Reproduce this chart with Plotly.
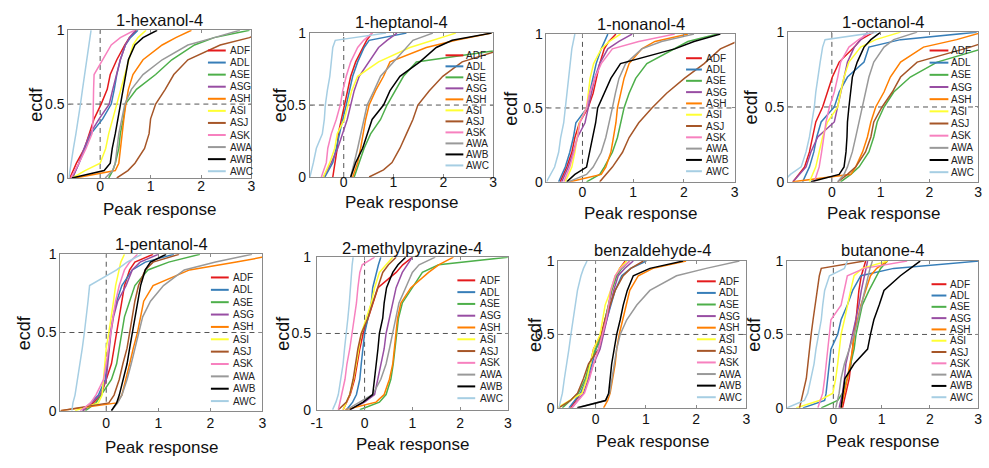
import plotly.graph_objects as go

# ---------------- data (x value at which each ecdf reaches the given level) ----------------
ecdf_levels = [0, 0.05, 0.1, 0.2, 0.3, 0.4, 0.5, 0.6, 0.7, 0.8, 0.9, 0.95, 1.0]
series_names = ["ADF", "ADL", "ASE", "ASG", "ASH", "ASI", "ASJ", "ASK", "AWA", "AWB", "AWC"]
series_colors = ["#e41a1c", "#377eb8", "#4daf4a", "#984ea3", "#ff7f00", "#ffff33",
                 "#a65628", "#f781bf", "#999999", "#000000", "#a6cee3"]
panel_titles = ["1-hexanol-4", "1-heptanol-4", "1-nonanol-4", "1-octanol-4",
                "1-pentanol-4", "2-methylpyrazine-4", "benzaldehyde-4", "butanone-4"]
x_min = [-0.63, -0.68, -0.71, -0.9, -0.88, -1.0, -0.74, -0.96]
x_max = 3
x_ticks = [-1, 0, 1, 2, 3]
y_ticks = [0, 0.5, 1]
y_tick_text = ["0", "0.5", "1"]

hexanol = {
    "ADF": [-0.6, -0.53, -0.47, -0.31, -0.21, -0.12, 0.02, 0.14, 0.2, 0.33, 0.49, 0.58, 0.72],
    "ADL": [-0.55, -0.48, -0.42, -0.3, -0.18, 0.05, 0.22, 0.28, 0.33, 0.4, 0.5, 0.6, 0.75],
    "ASE": [0.17, 0.25, 0.3, 0.37, 0.4, 0.46, 0.5, 0.72, 1.1, 1.42, 1.87, 2.26, 2.96],
    "ASG": [-0.55, -0.48, -0.42, -0.32, -0.2, -0.02, 0.18, 0.25, 0.32, 0.4, 0.5, 0.58, 0.7],
    "ASH": [-0.5, 0.3, 0.37, 0.4, 0.43, 0.47, 0.51, 0.56, 0.65, 0.85, 1.23, 1.5, 1.81],
    "ASI": [-0.55, -0.3, 0.0, 0.11, 0.17, 0.25, 0.33, 0.41, 0.49, 0.56, 0.65, 0.75, 0.91],
    "ASJ": [0.33, 0.55, 0.69, 0.88, 0.97, 1.0, 1.1, 1.29, 1.46, 1.74, 2.38, 2.96, 3.3],
    "ASK": [-0.58, -0.5, -0.42, -0.28, -0.16, -0.14, -0.14, -0.13, -0.12, 0.05, 0.22, 0.4, 0.68],
    "AWA": [0.1, 0.25, 0.3, 0.33, 0.37, 0.43, 0.49, 0.62, 0.85, 1.23, 1.74, 2.26, 2.77],
    "AWB": [-0.56, 0.08, 0.2, 0.24, 0.3, 0.35, 0.4, 0.46, 0.51, 0.56, 0.69, 0.85, 1.13],
    "AWC": [-0.62, -0.6, -0.58, -0.53, -0.48, -0.43, -0.39, -0.35, -0.31, -0.27, -0.22, -0.2, -0.18],
}
heptanol = {
    "ADF": [-0.22, -0.2, -0.17, -0.13, -0.11, -0.05, 0.01, 0.08, 0.14, 0.24, 0.38, 0.46, 0.57],
    "ADL": [-0.38, -0.3, -0.22, -0.15, -0.09, -0.02, 0.05, 0.11, 0.18, 0.28, 0.41, 0.51, 1.26],
    "ASE": [0.21, 0.26, 0.31, 0.41, 0.54, 0.74, 0.87, 1.03, 1.2, 1.46, 3.5, 3.7, 4.0],
    "ASG": [-0.41, -0.33, -0.25, -0.12, -0.02, 0.07, 0.14, 0.21, 0.31, 0.51, 0.7, 0.87, 1.07],
    "ASH": [0.18, 0.23, 0.28, 0.34, 0.39, 0.44, 0.51, 0.64, 0.8, 0.93, 1.66, 2.25, 2.97],
    "ASI": [-0.41, -0.35, -0.28, -0.18, -0.13, 0.01, 0.08, 0.16, 0.28, 0.7, 1.33, 1.79, 2.25],
    "ASJ": [0.51, 0.8, 0.97, 1.13, 1.26, 1.39, 1.49, 1.72, 1.99, 2.38, 3.3, 3.6, 4.0],
    "ASK": [-0.45, -0.4, -0.35, -0.32, -0.25, -0.15, -0.07, -0.02, 0.05, 0.14, 0.28, 0.4, 0.57],
    "AWA": [0.14, 0.18, 0.21, 0.28, 0.34, 0.41, 0.47, 0.61, 0.74, 1.0, 1.26, 1.39, 1.79],
    "AWB": [0.14, 0.19, 0.24, 0.38, 0.47, 0.57, 0.8, 0.93, 1.13, 1.53, 1.86, 2.18, 2.97],
    "AWC": [-0.68, -0.64, -0.61, -0.55, -0.43, -0.39, -0.37, -0.33, -0.28, -0.25, -0.22, -0.17, 0.85],
}
nonanol = {
    "ADF": [-0.44, -0.38, -0.31, -0.21, -0.15, -0.06, 0.11, 0.21, 0.28, 0.34, 0.43, 0.52, 0.66],
    "ADL": [-0.47, -0.4, -0.34, -0.25, -0.18, -0.13, 0.09, 0.14, 0.21, 0.27, 0.37, 0.43, 0.5],
    "ASE": [0.08, 0.34, 0.43, 0.59, 0.69, 0.75, 0.82, 0.92, 1.05, 1.27, 1.82, 2.08, 2.66],
    "ASG": [-0.41, -0.35, -0.28, -0.18, -0.1, 0.05, 0.11, 0.17, 0.24, 0.34, 0.5, 0.72, 0.98],
    "ASH": [-0.25, 0.37, 0.46, 0.56, 0.61, 0.66, 0.69, 0.75, 0.82, 0.92, 1.17, 1.43, 2.08],
    "ASI": [-0.34, -0.28, -0.21, -0.15, -0.1, -0.06, 0.08, 0.11, 0.15, 0.22, 0.37, 0.53, 0.75],
    "ASJ": [0.34, 0.46, 0.59, 0.79, 0.92, 1.11, 1.37, 1.66, 2.01, 2.4, 2.72, 3.05, 3.3],
    "ASK": [-0.37, -0.31, -0.25, -0.17, -0.1, -0.05, 0.08, 0.14, 0.24, 0.37, 0.59, 1.11, 1.82],
    "AWA": [-0.28, 0.08, 0.21, 0.37, 0.46, 0.53, 0.59, 0.65, 0.72, 0.85, 1.17, 1.56, 2.2],
    "AWB": [-0.31, -0.15, 0.08, 0.14, 0.21, 0.26, 0.3, 0.43, 0.56, 0.75, 1.82, 2.2, 2.72],
    "AWC": [-0.71, -0.63, -0.55, -0.47, -0.43, -0.37, -0.34, -0.31, -0.28, -0.25, -0.21, -0.18, -0.15],
}
octanol = {
    "ADF": [-0.8, -0.68, -0.56, -0.46, -0.39, -0.33, -0.19, -0.09, 0.01, 0.15, 0.46, 0.59, 0.86],
    "ADL": [-0.6, -0.53, -0.46, -0.37, -0.31, -0.22, 0.05, 0.15, 0.32, 0.66, 0.76, 1.41, 2.97],
    "ASE": [0.18, 0.39, 0.56, 0.76, 0.86, 0.93, 1.07, 1.27, 1.61, 2.16, 3.2, 3.5, 3.8],
    "ASG": [-0.8, -0.66, -0.53, -0.43, -0.29, 0.05, 0.12, 0.18, 0.25, 0.32, 0.46, 0.6, 0.73],
    "ASH": [-0.8, 0.39, 0.49, 0.63, 0.73, 0.8, 0.9, 1.07, 1.2, 1.41, 1.88, 2.56, 3.1],
    "ASI": [-0.46, -0.4, -0.33, -0.26, -0.19, -0.09, 0.12, 0.18, 0.25, 0.35, 0.59, 0.9, 1.41],
    "ASJ": [0.12, 0.32, 0.49, 0.69, 0.8, 0.86, 1.03, 1.24, 1.41, 1.75, 2.84, 3.3, 3.6],
    "ASK": [-0.36, -0.31, -0.26, -0.21, -0.17, -0.12, -0.05, 0.05, 0.12, 0.18, 0.35, 0.55, 0.8],
    "AWA": [0.12, 0.25, 0.32, 0.42, 0.49, 0.56, 0.63, 0.69, 0.76, 0.86, 1.07, 1.27, 1.75],
    "AWB": [-0.43, 0.15, 0.25, 0.29, 0.31, 0.32, 0.35, 0.39, 0.42, 0.52, 0.66, 0.8, 1.0],
    "AWC": [-1.0, -0.85, -0.63, -0.53, -0.46, -0.41, -0.36, -0.33, -0.29, -0.24, -0.19, -0.14, 0.93],
}
pentanol = {
    "ADF": [-0.45, -0.25, -0.1, 0.0, 0.1, 0.15, 0.2, 0.25, 0.3, 0.35, 0.45, 0.55, 0.9],
    "ADL": [-0.45, -0.3, -0.15, -0.02, 0.02, 0.05, 0.08, 0.13, 0.2, 0.3, 0.5, 0.75, 1.3],
    "ASE": [-0.4, -0.2, -0.1, 0.1, 0.2, 0.25, 0.3, 0.35, 0.45, 0.55, 0.8, 1.2, 1.8],
    "ASG": [-0.45, -0.28, -0.12, 0.0, 0.03, 0.06, 0.09, 0.14, 0.22, 0.38, 0.5, 0.65, 1.0],
    "ASH": [-0.88, 0.2, 0.3, 0.38, 0.45, 0.52, 0.6, 0.66, 0.72, 0.9, 1.6, 2.5, 3.3],
    "ASI": [-0.6, -0.15, -0.08, -0.05, -0.03, 0.0, 0.05, 0.1, 0.14, 0.18, 0.24, 0.28, 0.35],
    "ASJ": [-0.88, 0.05, 0.15, 0.25, 0.32, 0.4, 0.45, 0.5, 0.55, 0.62, 0.75, 0.9, 1.4],
    "ASK": [-0.5, -0.3, -0.2, -0.05, 0.0, 0.04, 0.08, 0.13, 0.18, 0.25, 0.35, 0.45, 0.6],
    "AWA": [0.1, 0.22, 0.3, 0.4, 0.48, 0.55, 0.62, 0.7, 0.85, 1.1, 1.5, 2.1, 2.8],
    "AWB": [0.1, 0.2, 0.25, 0.33, 0.4, 0.45, 0.5, 0.55, 0.6, 0.66, 0.75, 0.85, 1.15],
    "AWC": [-0.66, -0.64, -0.6, -0.55, -0.5, -0.46, -0.42, -0.38, -0.35, -0.32, 0.2, 0.4, 0.68],
}
methylpyrazine = {
    "ADF": [-0.45, -0.38, -0.3, -0.21, -0.16, -0.1, -0.03, 0.07, 0.17, 0.28, 0.66, 0.8, 1.0],
    "ADL": [-0.38, -0.25, -0.17, -0.1, -0.07, -0.03, 0.0, 0.07, 0.14, 0.17, 0.24, 0.29, 0.34],
    "ASE": [-0.1, 0.31, 0.45, 0.55, 0.6, 0.64, 0.67, 0.71, 0.79, 1.0, 1.21, 1.55, 3.0],
    "ASG": [-0.31, 0.0, 0.21, 0.28, 0.34, 0.41, 0.45, 0.52, 0.59, 0.66, 0.79, 0.9, 1.0],
    "ASH": [-0.41, 0.24, 0.41, 0.52, 0.59, 0.62, 0.66, 0.69, 0.76, 0.97, 1.34, 1.55, 1.86],
    "ASI": [-0.45, -0.38, -0.31, -0.23, -0.17, -0.12, -0.07, 0.03, 0.14, 0.21, 0.31, 0.45, 0.59],
    "ASJ": [-0.55, -0.38, -0.31, -0.24, -0.19, -0.14, -0.07, 0.07, 0.17, 0.28, 0.38, 0.5, 0.66],
    "ASK": [-0.55, -0.52, -0.48, -0.41, -0.37, -0.31, -0.26, -0.21, -0.17, -0.14, -0.1, -0.05, 0.21],
    "AWA": [-0.38, -0.1, 0.17, 0.34, 0.45, 0.52, 0.59, 0.66, 0.72, 0.86, 1.0, 1.14, 1.48],
    "AWB": [-0.31, -0.03, 0.17, 0.21, 0.24, 0.28, 0.31, 0.38, 0.41, 0.46, 0.59, 0.7, 0.86],
    "AWC": [-0.67, -0.6, -0.55, -0.5, -0.45, -0.42, -0.38, -0.35, -0.32, -0.3, -0.27, -0.26, -0.24],
}
benzaldehyde = {
    "ADF": [-0.5, -0.4, -0.29, -0.17, -0.11, -0.04, 0.11, 0.19, 0.26, 0.32, 0.41, 0.48, 0.59],
    "ADL": [-0.53, -0.42, -0.3, -0.17, -0.07, 0.01, 0.14, 0.22, 0.3, 0.39, 0.52, 0.7, 1.01],
    "ASE": [-0.66, -0.5, -0.34, -0.2, -0.12, 0.0, 0.13, 0.19, 0.26, 0.32, 0.42, 0.52, 0.68],
    "ASG": [-0.47, -0.36, -0.24, -0.14, -0.04, 0.09, 0.16, 0.22, 0.29, 0.36, 0.45, 0.58, 0.75],
    "ASH": [0.16, 0.24, 0.29, 0.34, 0.39, 0.42, 0.47, 0.54, 0.61, 0.68, 0.85, 1.14, 1.8],
    "ASI": [-0.76, -0.5, -0.27, -0.17, -0.11, -0.04, 0.09, 0.14, 0.19, 0.3, 0.39, 0.48, 0.62],
    "ASJ": [-0.73, -0.5, -0.36, -0.24, -0.14, 0.06, 0.13, 0.19, 0.29, 0.39, 0.55, 0.7, 0.95],
    "ASK": [-0.47, -0.35, -0.22, -0.12, -0.04, 0.06, 0.14, 0.21, 0.26, 0.3, 0.39, 0.5, 0.68],
    "AWA": [-0.37, 0.19, 0.28, 0.33, 0.37, 0.42, 0.49, 0.62, 0.82, 1.08, 1.61, 2.2, 2.86],
    "AWB": [-0.36, 0.2, 0.26, 0.29, 0.32, 0.37, 0.42, 0.49, 0.55, 0.63, 0.75, 1.08, 1.74],
    "AWC": [-0.73, -0.7, -0.66, -0.62, -0.57, -0.53, -0.49, -0.45, -0.4, -0.36, -0.29, -0.24, -0.17],
}
butanone = {
    "ADF": [0.19, 0.22, 0.26, 0.33, 0.36, 0.4, 0.43, 0.47, 0.5, 0.53, 0.58, 0.62, 0.67],
    "ADL": [-0.63, -0.18, -0.15, -0.12, -0.08, -0.05, 0.09, 0.16, 0.29, 0.4, 0.57, 1.25, 3.03],
    "ASE": [-0.25, 0.09, 0.19, 0.29, 0.36, 0.43, 0.47, 0.53, 0.6, 0.74, 0.91, 0.98, 1.12],
    "ASG": [0.12, 0.15, 0.19, 0.23, 0.26, 0.33, 0.4, 0.47, 0.53, 0.58, 0.64, 0.68, 0.71],
    "ASH": [0.16, 0.2, 0.23, 0.29, 0.35, 0.4, 0.43, 0.5, 0.57, 0.67, 0.77, 0.9, 1.12],
    "ASI": [-0.77, -0.29, -0.01, 0.05, 0.09, 0.12, 0.16, 0.23, 0.29, 0.36, 0.43, 0.6, 1.12],
    "ASJ": [-0.7, -0.66, -0.63, -0.56, -0.53, -0.49, -0.46, -0.42, -0.38, -0.34, -0.29, -0.25, 0.64],
    "ASK": [-0.32, -0.27, -0.22, -0.18, -0.15, -0.12, -0.08, -0.05, 0.16, 0.23, 0.29, 0.64, 1.53],
    "AWA": [0.05, 0.09, 0.12, 0.16, 0.23, 0.33, 0.43, 0.51, 0.58, 0.65, 0.71, 0.76, 0.81],
    "AWB": [0.16, 0.18, 0.21, 0.24, 0.43, 0.71, 0.77, 0.84, 0.95, 1.05, 1.39, 1.6, 1.8],
    "AWC": [-0.96, -0.6, -0.53, -0.46, -0.4, -0.36, -0.31, -0.25, -0.22, -0.18, -0.08, 0.23, 0.29],
}
panels = [hexanol, heptanol, nonanol, octanol, pentanol, methylpyrazine, benzaldehyde, butanone]

# ---------------- layout geometry (pixels) ----------------
W, H = 989, 468
frames = [(63, 248, 23, 176), (307, 492, 26, 175), (546, 736, 27, 180), (790, 982, 25, 180),
          (55, 259, 255, 417), (314, 507, 258, 416), (558, 748, 262, 414), (789, 982, 262, 414)]
title_y = [12, 15, 17, 14, 244, 248, 251, 251]
xlabel_y = [209, 201, 213, 213, 455, 452, 449, 449]
ylabel_x = [30, 277, 510, 753, 18, 280, 535, 756]
x_label_standoff = [-5, -8, -3, -3, -1, 0, -2, -2]
y_label_standoff = [0, 0, 0, 0, 0, 2, 0, 0]
# legend: swatch x0, swatch x1, text x, first row y, row spacing
legend_geo = [(204, 222, 224, 44, 12.5), (444, 462, 463, 49, 11.4), (687, 703, 705, 52, 11.7),
              (933, 952, 953, 44, 12.6), (207, 225, 227, 279, 12.8), (456, 474, 477, 282, 12.2),
              (698, 717, 718, 283, 12.0), (935, 950, 952, 286, 11.7)]

FONT = "Liberation Sans, Arial, Helvetica, sans-serif"
FRAME = "#8a8a8a"


def px(x):
    return x / W


def py(y):
    return 1 - y / H


fig = go.Figure()
shapes, annotations = [], []
layout = {}

for p, data in enumerate(panels):
    k = "" if p == 0 else str(p + 1)
    x0, x1, y0, y1 = frames[p]
    for name, color in zip(series_names, series_colors):
        fig.add_trace(go.Scatter(
            x=data[name], y=ecdf_levels, mode="lines", name=name,
            line=dict(color=color, width=1.5), showlegend=False,
            xaxis="x" + k, yaxis="y" + k, cliponaxis=True))
    layout["xaxis" + k] = dict(
        domain=[px(x0), px(x1)], range=[x_min[p], x_max], anchor="y" + k,
        tickvals=x_ticks, ticktext=[str(t) for t in x_ticks], ticks="inside", ticklen=3,
        tickcolor=FRAME, showline=True, linecolor=FRAME, linewidth=1, mirror="ticks",
        ticklabelstandoff=x_label_standoff[p],
        showgrid=False, zeroline=False, tickfont=dict(size=14, color="#111", family=FONT))
    layout["yaxis" + k] = dict(
        domain=[py(y1), py(y0)], range=[0, 1], anchor="x" + k,
        tickvals=y_ticks, ticktext=y_tick_text, ticks="inside", ticklen=3,
        tickcolor=FRAME, showline=True, linecolor=FRAME, linewidth=1, mirror="ticks",
        ticklabelstandoff=y_label_standoff[p],
        showgrid=False, zeroline=False, tickfont=dict(size=14, color="#111", family=FONT))
    # reference dashed lines at x = 0 and ecdf = 0.5
    shapes.append(dict(type="line", xref="x" + k, yref="y" + k + " domain", x0=0, x1=0, y0=0, y1=1,
                       line=dict(color="#555", width=1, dash="5px,4px"), layer="below"))
    shapes.append(dict(type="line", xref="x" + k + " domain", yref="y" + k, x0=0, x1=1, y0=0.5, y1=0.5,
                       line=dict(color="#555", width=1, dash="5px,4px"), layer="below"))
    # titles and axis labels
    annotations.append(dict(text=panel_titles[p], x=px((x0 + x1) / 2), y=py(title_y[p]),
                            xref="paper", yref="paper", showarrow=False, xanchor="center", yanchor="middle",
                            font=dict(size=16.5, color="#111", family=FONT)))
    annotations.append(dict(text="Peak response", x=px((x0 + x1) / 2), y=py(xlabel_y[p]),
                            xref="paper", yref="paper", showarrow=False, xanchor="center", yanchor="middle",
                            font=dict(size=17, color="#111", family=FONT)))
    annotations.append(dict(text="ecdf", x=px(ylabel_x[p]), y=py((y0 + y1) / 2), textangle=-90,
                            xref="paper", yref="paper", showarrow=False, xanchor="center", yanchor="middle",
                            font=dict(size=18, color="#111", family=FONT)))
    # legend
    sx0, sx1, tx, ly, dy = legend_geo[p]
    for i, (name, color) in enumerate(zip(series_names, series_colors)):
        yy = ly + i * dy
        shapes.append(dict(type="line", xref="paper", yref="paper", x0=px(sx0), x1=px(sx1),
                           y0=py(yy), y1=py(yy), line=dict(color=color, width=2)))
        annotations.append(dict(text=name, x=px(tx), y=py(yy), xref="paper", yref="paper",
                                showarrow=False, xanchor="left", yanchor="middle",
                                font=dict(size=10, color="#222", family=FONT)))

fig.update_layout(
    width=W, height=H, margin=dict(l=0, r=0, t=0, b=0),
    paper_bgcolor="white", plot_bgcolor="white",
    shapes=shapes, annotations=annotations, showlegend=False, **layout)

fig.write_html("out.html")
